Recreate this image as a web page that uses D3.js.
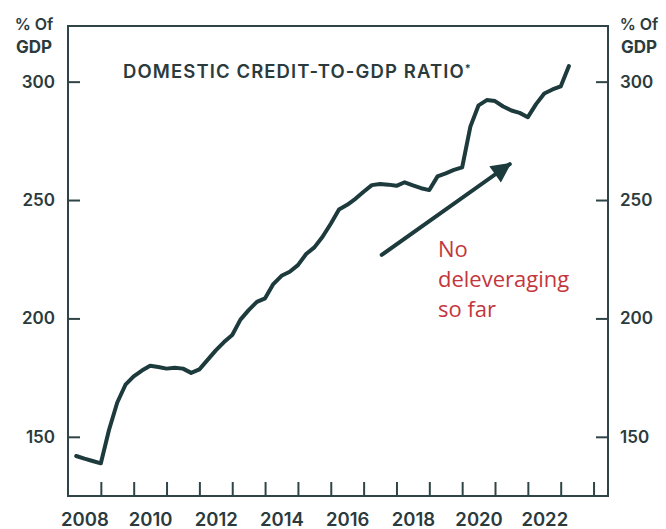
<!DOCTYPE html>
<html>
<head>
<meta charset="utf-8">
<script src="https://cdn.jsdelivr.net/npm/d3@7"></script>
<style>
  body { margin: 0; background: #fff; }
  .tick text { font-family: Inter, "Noto Sans", sans-serif; font-weight: 600; fill: #2b3b3d; }
</style>
</head>
<body>
<div id="vis"></div>
<script>
// domestic credit-to-GDP ratio, quarterly
const FRAME_WIDTH = 666;
const FRAME_HEIGHT = 529;
const MARGINS = {left: 68, right: 58, top: 26, bottom: 33};

const quarters = [
  "2008Q2","2008Q3","2008Q4",
  "2009Q1","2009Q2","2009Q3","2009Q4",
  "2010Q1","2010Q2","2010Q3","2010Q4",
  "2011Q1","2011Q2","2011Q3","2011Q4",
  "2012Q1","2012Q2","2012Q3","2012Q4",
  "2013Q1","2013Q2","2013Q3","2013Q4",
  "2014Q1","2014Q2","2014Q3","2014Q4",
  "2015Q1","2015Q2","2015Q3","2015Q4",
  "2016Q1","2016Q2","2016Q3","2016Q4",
  "2017Q1","2017Q2","2017Q3","2017Q4",
  "2018Q1","2018Q2","2018Q3","2018Q4",
  "2019Q1","2019Q2","2019Q3","2019Q4",
  "2020Q1","2020Q2","2020Q3","2020Q4",
  "2021Q1","2021Q2","2021Q3","2021Q4",
  "2022Q1","2022Q2","2022Q3","2022Q4",
  "2023Q1","2023Q2"
];
const ratio = [
  141.9, 140.8, 139.8,
  138.8, 153.0, 164.5, 172.0,
  175.5, 178.0, 180.0, 179.5,
  178.8, 179.2, 178.8, 177.0,
  178.5, 182.5, 186.5, 190.0,
  193.0, 199.5, 203.5, 207.0,
  208.5, 214.5, 218.0, 219.7,
  222.5, 227.2, 230.0, 234.5,
  240.0, 246.0, 248.0, 250.5,
  253.5, 256.3, 256.8, 256.5,
  256.0, 257.5, 256.2, 255.0,
  254.2, 260.0, 261.3, 262.7,
  263.8, 281.0, 290.0, 292.2,
  291.8, 289.5, 287.8, 286.8,
  285.0, 290.5, 295.0, 296.7,
  298.0, 306.6
];
const yTicks = [150, 200, 250, 300];
const yearLabels = [2008, 2010, 2012, 2014, 2016, 2018, 2020, 2022];
const yearTicks = d3.range(2009, 2025);

// annotation: arrow from/to (decimal year, ratio)
const arrowFrom = [2017.55, 226.8];
const arrowTo = [2021.45, 265.2];
const noteLines = ["No", "deleveraging", "so far"];

const toYear = (q) => +q.slice(0, 4) + (+q.slice(5) - 1) / 4;

const FRAME = d3.select("#vis")
  .append("svg")
    .attr("width", FRAME_WIDTH)
    .attr("height", FRAME_HEIGHT);

const X_SCALE = d3.scaleLinear()
  .domain([2008, 2024.44])
  .range([MARGINS.left, FRAME_WIDTH - MARGINS.right]);

const Y_SCALE = d3.scaleLinear()
  .domain([125, 323.5])
  .range([FRAME_HEIGHT - MARGINS.bottom, MARGINS.top]);

const INK = "#2f4446";
const LINE = "#1d3a3c";

// frame box
FRAME.append("rect")
  .attr("x", MARGINS.left)
  .attr("y", MARGINS.top)
  .attr("width", FRAME_WIDTH - MARGINS.left - MARGINS.right)
  .attr("height", FRAME_HEIGHT - MARGINS.top - MARGINS.bottom)
  .attr("fill", "none")
  .attr("stroke", INK)
  .attr("stroke-width", 2);

// left axis
FRAME.append("g")
  .attr("transform", "translate(" + MARGINS.left + ",0)")
  .call(d3.axisLeft(Y_SCALE).tickValues(yTicks).tickSize(-12).tickPadding(13))
  .call(g => g.select(".domain").remove())
  .call(g => g.selectAll("line").attr("stroke", INK).attr("stroke-width", 2))
  .call(g => g.selectAll("text").attr("font-size", "17px"));

// right axis
FRAME.append("g")
  .attr("transform", "translate(" + (FRAME_WIDTH - MARGINS.right) + ",0)")
  .call(d3.axisRight(Y_SCALE).tickValues(yTicks).tickSize(-12).tickPadding(12))
  .call(g => g.select(".domain").remove())
  .call(g => g.selectAll("line").attr("stroke", INK).attr("stroke-width", 2))
  .call(g => g.selectAll("text").attr("font-size", "17px"));

// year ticks
FRAME.append("g")
  .attr("transform", "translate(0," + (FRAME_HEIGHT - MARGINS.bottom) + ")")
  .call(d3.axisBottom(X_SCALE).tickValues(yearTicks).tickSize(-14).tickFormat(""))
  .call(g => g.select(".domain").remove())
  .call(g => g.selectAll("line").attr("stroke", INK).attr("stroke-width", 2));

// year labels, centred in their year
FRAME.append("g")
  .attr("transform", "translate(0," + (FRAME_HEIGHT - MARGINS.bottom) + ")")
  .call(d3.axisBottom(X_SCALE).tickValues(yearLabels.map(d => d + 0.5)).tickSize(0)
    .tickPadding(17).tickFormat(d => Math.floor(d)))
  .call(g => g.select(".domain").remove())
  .call(g => g.selectAll("text").attr("font-size", "18.5px"));

// unit labels
const unitFont = "Inter, 'Noto Sans', sans-serif";
[[34, "middle"], [639, "middle"]].forEach(([x, anchor]) => {
  FRAME.append("text")
    .attr("x", x).attr("y", 30)
    .attr("text-anchor", anchor)
    .attr("font-family", unitFont).attr("font-weight", 600)
    .attr("font-size", "16px").attr("fill", "#2b3b3d")
    .text("% Of");
  FRAME.append("text")
    .attr("x", x).attr("y", 53)
    .attr("text-anchor", anchor)
    .attr("font-family", unitFont).attr("font-weight", 700)
    .attr("font-size", "17px").attr("fill", "#2b3b3d")
    .text("GDP");
});

// title
const title = FRAME.append("text")
  .attr("x", 123).attr("y", 78)
  .attr("font-family", unitFont).attr("font-weight", 600)
  .attr("font-size", "18.5px").attr("fill", "#2b3b3d")
  .attr("letter-spacing", "1.1px");
title.append("tspan").text("DOMESTIC CREDIT-TO-GDP RATIO");
title.append("tspan").attr("font-size", "11px").attr("dy", -6).text("*");

// the series
const line = d3.line()
  .x((d, i) => X_SCALE(toYear(quarters[i])))
  .y(d => Y_SCALE(d));

FRAME.append("path")
  .datum(ratio)
  .attr("d", line)
  .attr("fill", "none")
  .attr("stroke", LINE)
  .attr("stroke-width", 4)
  .attr("stroke-linejoin", "round")
  .attr("stroke-linecap", "round");

// arrow
FRAME.append("defs").append("marker")
  .attr("id", "head")
  .attr("viewBox", "0 0 10 10")
  .attr("refX", 9).attr("refY", 5)
  .attr("markerWidth", 5.5).attr("markerHeight", 5)
  .attr("markerUnits", "strokeWidth")
  .attr("orient", "auto")
  .append("path")
    .attr("d", "M0,0 L10,5 L0,10 Z")
    .attr("fill", LINE);

const ax1 = X_SCALE(arrowFrom[0]), ay1 = Y_SCALE(arrowFrom[1]);
const ax2 = X_SCALE(arrowTo[0]), ay2 = Y_SCALE(arrowTo[1]);
FRAME.append("line")
  .attr("x1", ax1).attr("y1", ay1)
  .attr("x2", ax2).attr("y2", ay2)
  .attr("stroke", LINE)
  .attr("stroke-width", 4)
  .attr("stroke-linecap", "round")
  .attr("marker-end", "url(#head)");

// note
FRAME.append("text")
  .attr("x", 438).attr("y", 257)
  .attr("font-family", "'Open Sans', 'Noto Sans', sans-serif")
  .attr("font-weight", 500)
  .attr("font-size", "22px").attr("fill", "#c3363d")
  .selectAll("tspan")
  .data(noteLines)
  .enter()
  .append("tspan")
    .attr("x", 438)
    .attr("dy", (d, i) => i === 0 ? 0 : 30)
    .text(d => d);
</script>
</body>
</html>
